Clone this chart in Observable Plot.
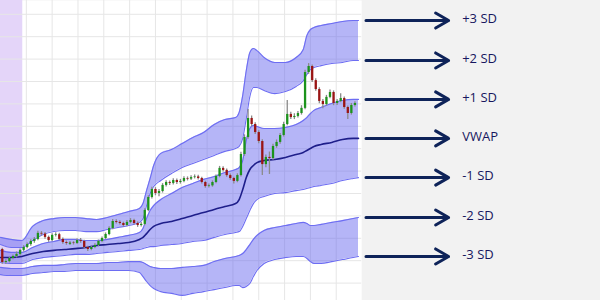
<!DOCTYPE html>
<html>
<head>
<meta charset="utf-8">
<script src="https://cdn.jsdelivr.net/npm/d3@7"></script>
<script src="https://cdn.jsdelivr.net/npm/@observablehq/plot@0.6"></script>
<style>
  html, body { margin: 0; padding: 0; background: #ffffff; }
  #chart svg { display: block; }
</style>
</head>
<body>
<div id="chart"></div>
<script>
// Intraday price bars (one entry per bar)
const opens = [
  115.0, 109.2, 109.6, 111.0, 111.9, 112.8, 114.6, 115.9, 117.2, 118.6,
  119.5, 122.2, 121.9, 120.4, 119.0, 121.3, 121.6, 119.5, 118.1, 117.3,
  117.9, 117.7, 119.0, 118.6, 115.9, 115.0, 115.9, 116.8, 118.6, 119.9,
  121.7, 124.4, 127.5, 127.1, 126.6, 125.7, 127.1, 127.9, 126.6, 125.7,
  126.2, 132.4, 138.2, 141.8, 140.0, 140.9, 143.6, 144.9, 144.5, 145.8,
  144.9, 145.4, 146.7, 146.4, 147.1, 147.4, 146.7, 144.9, 143.1, 143.4,
  144.9, 147.6, 151.2, 150.3, 148.0, 146.7, 145.4, 148.0, 157.4, 165.0,
  173.5, 170.8, 167.2, 163.2, 152.9, 156.1, 155.6, 161.0, 162.8, 165.9,
  170.8, 175.3, 173.9, 174.4, 175.7, 178.0, 194.0, 196.7, 190.4, 186.4,
  181.1, 179.7, 182.9, 185.1, 180.2, 181.1, 182.4, 178.4, 175.7, 179.3
];
const closes = [
  109.2, 109.6, 111.0, 111.9, 112.8, 114.6, 115.9, 117.2, 118.6, 119.5,
  122.2, 121.9, 120.4, 119.0, 121.3, 121.6, 119.5, 118.1, 117.7, 117.9,
  117.7, 119.0, 118.6, 115.9, 115.0, 115.9, 116.8, 118.6, 119.9, 121.7,
  124.4, 127.5, 127.1, 126.6, 125.7, 127.1, 127.9, 126.6, 125.7, 126.2,
  132.4, 138.2, 141.8, 140.0, 140.9, 143.6, 144.9, 144.5, 145.8, 144.9,
  145.4, 146.7, 146.4, 147.1, 147.4, 146.7, 144.9, 143.1, 143.4, 144.9,
  147.6, 151.2, 150.3, 148.0, 146.7, 145.4, 148.0, 157.4, 165.0, 173.5,
  170.8, 167.2, 163.2, 152.9, 156.1, 155.6, 161.0, 162.8, 165.9, 170.8,
  175.3, 173.9, 174.4, 175.7, 178.0, 194.0, 196.7, 190.4, 186.4, 181.1,
  179.7, 182.9, 185.1, 180.2, 181.1, 182.4, 178.4, 175.7, 179.3, 180.2
];
const highs = [
  115.6, 110.4, 111.6, 112.5, 113.9, 115.2, 116.7, 117.9, 119.4, 120.3,
  123.2, 123.0, 122.6, 121.0, 122.0, 122.5, 122.2, 120.1, 118.8, 118.6,
  118.5, 119.8, 119.9, 119.1, 116.5, 116.6, 117.6, 119.2, 120.6, 122.4,
  125.1, 128.4, 128.3, 127.8, 127.2, 127.9, 128.8, 128.5, 127.3, 127.0,
  133.2, 139.0, 142.8, 142.6, 141.8, 144.4, 145.7, 145.6, 146.6, 146.5,
  146.3, 147.5, 147.4, 147.9, 148.3, 148.1, 147.3, 145.5, 144.2, 145.6,
  148.3, 152.1, 151.9, 150.9, 148.7, 147.3, 148.8, 158.4, 166.2, 177.5,
  174.6, 171.6, 168.0, 164.0, 157.2, 158.5, 162.0, 163.9, 166.8, 171.8,
  181.5, 176.3, 175.6, 176.6, 179.2, 195.0, 198.0, 197.4, 191.2, 187.2,
  182.0, 183.8, 186.2, 185.8, 182.0, 184.5, 183.1, 179.1, 180.2, 181.0
];
const lows = [
  108.4, 108.3, 109.0, 110.4, 111.2, 112.0, 113.9, 115.3, 116.5, 117.8,
  118.9, 121.0, 119.6, 118.2, 118.5, 120.6, 118.9, 117.3, 116.9, 116.8,
  117.0, 117.2, 117.8, 115.2, 114.1, 114.4, 115.3, 116.2, 118.0, 119.4,
  121.1, 123.8, 126.4, 125.9, 125.0, 125.1, 126.5, 125.9, 124.9, 125.0,
  125.6, 131.8, 137.5, 139.0, 138.6, 140.2, 142.9, 143.6, 143.8, 144.0,
  144.2, 144.8, 145.6, 145.8, 146.5, 146.0, 144.2, 142.3, 142.5, 142.8,
  144.3, 147.0, 149.6, 147.3, 145.9, 144.2, 144.8, 147.4, 156.6, 164.2,
  169.9, 166.3, 162.2, 148.0, 151.5, 148.5, 154.8, 160.2, 162.0, 165.2,
  170.2, 173.0, 173.0, 173.7, 175.0, 177.4, 193.2, 189.5, 185.6, 180.1,
  177.8, 179.0, 182.3, 179.2, 179.3, 180.5, 177.6, 173.0, 175.0, 178.6
];

// VWAP and its standard-deviation bands, sampled at these bar positions
const bandBars = [0, 3, 6, 9, 12, 15, 18, 21, 24, 27, 30, 33, 36, 39, 40, 41, 42, 43, 45, 48,
  51, 54, 57, 60, 63, 66, 67, 68, 69, 70, 71, 72, 74, 77, 80, 83, 85, 86, 87, 88, 90, 93, 96, 99, 100.5];
const upper3 = [
  120.4, 119.5, 119.0, 125.3, 127.9, 128.8, 129.3, 129.3, 128.8, 128.4,
  129.3, 130.6, 132.0, 133.3, 135.5, 141.3, 146.7, 152.5, 157.9, 159.6,
  162.3, 165.0, 167.2, 170.8, 173.0, 173.9, 176.2, 183.8, 194.9, 202.9,
  204.7, 203.8, 200.7, 198.5, 198.5, 200.7, 204.3, 210.5, 213.2, 214.1,
  215.0, 215.9, 216.8, 217.2, 217.2
];
const upper2 = [
  117.2, 115.9, 115.9, 119.0, 121.7, 123.0, 123.5, 123.5, 123.0, 123.0,
  123.9, 124.8, 125.7, 127.1, 128.8, 134.6, 140.0, 143.1, 145.8, 148.9,
  151.6, 153.4, 155.2, 157.0, 158.8, 160.1, 161.0, 164.6, 173.5, 183.3,
  187.3, 187.3, 186.0, 184.6, 185.5, 187.8, 190.4, 193.1, 195.4, 196.2,
  197.1, 198.0, 198.5, 199.4, 199.4
];
const upper1 = [
  114.6, 113.7, 113.7, 115.9, 117.7, 118.6, 119.5, 119.5, 119.0, 119.0,
  119.5, 120.4, 121.3, 122.6, 124.4, 128.8, 132.4, 134.6, 137.3, 140.0,
  142.7, 144.5, 146.3, 147.6, 149.4, 150.7, 151.6, 154.7, 163.7, 169.0,
  170.4, 169.9, 169.0, 169.0, 169.5, 170.8, 172.6, 173.9, 175.7, 177.1,
  178.4, 180.2, 181.5, 182.0, 182.0
];
const vwap = [
  111.4, 111.4, 111.9, 113.2, 114.1, 114.6, 115.0, 115.4, 115.9, 116.8,
  117.2, 117.7, 118.1, 119.5, 120.4, 122.1, 123.9, 125.3, 126.6, 127.5,
  128.8, 130.2, 131.5, 132.9, 134.2, 135.5, 137.3, 141.8, 147.1, 150.7,
  152.5, 153.8, 154.7, 155.2, 156.1, 157.4, 158.3, 159.2, 160.1, 161.0,
  161.9, 162.8, 164.1, 164.6, 164.6
];
const lower1 = [
  109.2, 108.75, 108.75, 110.5, 111.4, 111.9, 112.3, 112.8, 112.8, 113.2,
  113.7, 114.1, 114.6, 115.0, 115.4, 115.9, 116.3, 116.3, 116.8, 117.2,
  117.7, 118.6, 119.0, 120.4, 121.7, 122.6, 123.0, 125.3, 128.8, 132.4,
  135.5, 137.3, 138.7, 140.0, 140.4, 141.3, 141.8, 142.2, 142.7, 143.1,
  143.6, 144.5, 145.8, 146.7, 147.1
];
const lower2 = [
  107.0, 106.5, 106.5, 107.4, 107.9, 107.9, 108.3, 108.75, 108.75, 108.75,
  109.2, 109.2, 109.6, 109.6, 109.2, 108.3, 107.4, 107.0, 106.5, 106.5,
  107.0, 107.4, 107.9, 109.6, 111.0, 111.9, 112.3, 113.2, 115.0, 117.2,
  119.5, 121.3, 123.5, 124.8, 125.7, 126.6, 127.1, 126.6, 125.7, 125.7,
  126.2, 127.1, 127.9, 128.8, 129.3
];
const lower3 = [
  103.8, 103.4, 103.4, 104.3, 104.7, 105.2, 105.2, 105.6, 105.6, 105.6,
  105.6, 105.6, 105.6, 104.7, 102.9, 100.7, 98.9, 97.6, 96.2, 95.4,
  94.5, 95.4, 96.2, 97.1, 98.0, 98.9, 98.9, 98.0, 98.5, 99.8,
  102.9, 105.6, 108.75, 110.5, 111.4, 111.9, 111.9, 111.0, 109.6, 108.75,
  108.75, 109.6, 110.5, 111.4, 111.9
];
const bandLabels = ["+3 SD", "+2 SD", "+1 SD", "VWAP", "-1 SD", "-2 SD", "-3 SD"];

// Layout constants (in bar units on the x axis)
const xExtent = [0, 101.4];     // chart area, right edge of the plotting frame
const openingEnd = 6.25;        // shaded opening period
const gridStepBars = 7.25;      // spacing of the vertical grid
const priceGrid = d3.range(100, 230, 10);
const arrowFrom = 102.6, arrowTo = 125.8, labelAt = 129.6;

const bars = closes.map((c, i) => ({
  x: i + 0.5, open: opens[i], high: highs[i], low: lows[i], close: c
}));
const bands = bandBars.map((t, k) => ({
  t, u3: upper3[k], u2: upper2[k], u1: upper1[k], vwap: vwap[k],
  l1: lower1[k], l2: lower2[k], l3: lower3[k]
}));
const series = [upper3, upper2, upper1, vwap, lower1, lower2, lower3];
const ends = series.map((s, k) => ({label: bandLabels[k], value: s[s.length - 1]}));

const bandFill = "#6262ef";
const bandLine = "#6d6df2";
const curve = "monotone-x";

const chart = Plot.plot({
  width: 600,
  height: 300,
  marginTop: 0,
  marginBottom: 0,
  marginLeft: 0,
  marginRight: 238.8,
  style: {background: "#f2f2f2", overflow: "visible"},
  x: {domain: xExtent, axis: null},
  y: {domain: [92.23, 226.16], axis: null},
  marks: [
    Plot.frame({fill: "white", stroke: "none"}),
    Plot.rect([0], {x1: 0, x2: openingEnd, fill: "#e4d5f9"}),
    Plot.ruleX(d3.range(gridStepBars, xExtent[1], gridStepBars), {stroke: "#e6e6e6"}),
    Plot.ruleY(priceGrid, {x1: xExtent[0], x2: xExtent[1], stroke: "#e6e6e6"}),

    // Band fills: ±3..±2 outer zones and the ±1 zone around VWAP
    Plot.areaY(bands, {x: "t", y1: "u2", y2: "u3", fill: bandFill, fillOpacity: 0.47, curve}),
    Plot.areaY(bands, {x: "t", y1: "l1", y2: "u1", fill: bandFill, fillOpacity: 0.47, curve}),
    Plot.areaY(bands, {x: "t", y1: "l3", y2: "l2", fill: bandFill, fillOpacity: 0.47, curve}),

    ...["u3", "u2", "u1", "l1", "l2", "l3"].map(k =>
      Plot.line(bands, {x: "t", y: k, stroke: bandLine, strokeWidth: 1.1, curve})),
    Plot.line(bands, {x: "t", y: "vwap", stroke: "#1e1e8a", strokeWidth: 1.6, curve}),

    // Candlesticks
    Plot.ruleX(bars, {x: "x", y1: "low", y2: "high", stroke: "#8a8a8a", strokeWidth: 1.3}),
    Plot.ruleX(bars.filter(d => d.close >= d.open), {x: "x", y1: "open", y2: "close", stroke: "#1c931c", strokeWidth: 2.3}),
    Plot.ruleX(bars.filter(d => d.close < d.open), {x: "x", y1: "open", y2: "close", stroke: "#9a1414", strokeWidth: 2.3}),

    // Band annotations on the right
    Plot.arrow(ends, {
      x1: arrowFrom, x2: arrowTo, y1: "value", y2: "value",
      stroke: "#0e2359", strokeWidth: 3, headLength: 7.5, headAngle: 60
    }),
    Plot.text(ends, {
      x: labelAt, y: "value", text: "label", textAnchor: "start", dy: -2,
      fill: "#17175f", fontSize: 13, fontFamily: "Open Sans"
    })
  ]
});

document.getElementById("chart").append(chart);
</script>
</body>
</html>
